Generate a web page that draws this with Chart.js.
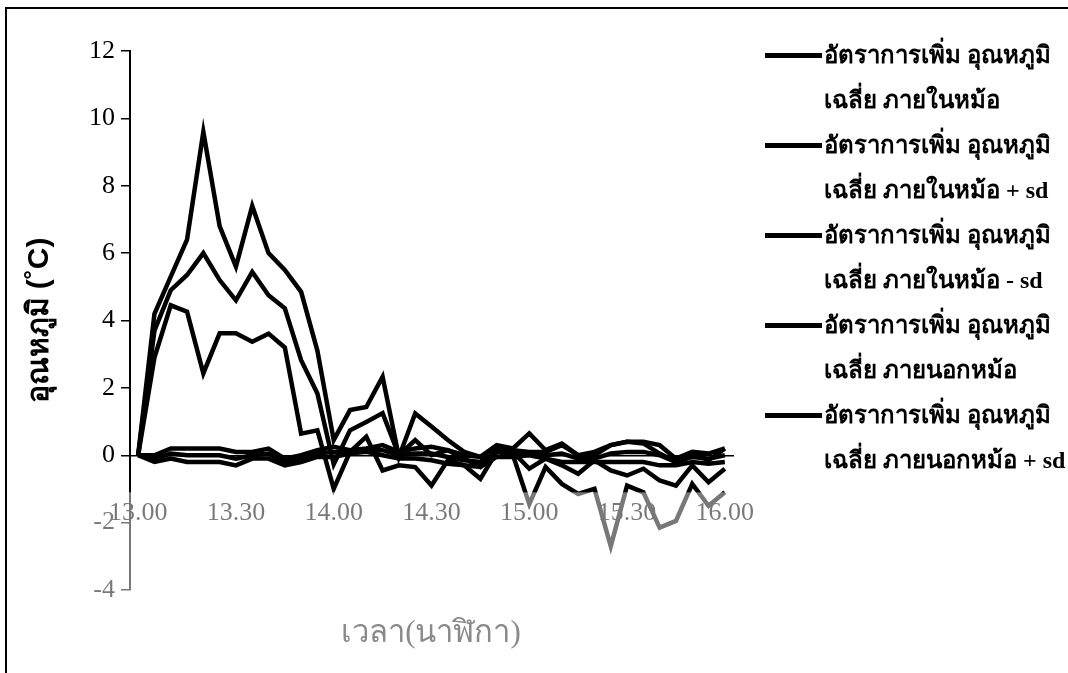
<!DOCTYPE html>
<html>
<head>
<meta charset="utf-8">
<script src="https://cdn.jsdelivr.net/npm/chart.js@4.4.1/dist/chart.umd.min.js"></script>
<style>
  html, body { margin: 0; padding: 0; background: #fff; }
  #wrap { position: relative; width: 1068px; height: 673px; overflow: hidden; }
  #chart { position: absolute; left: 0; top: 0; }
  #frame { position: absolute; left: 5px; top: 7px; width: 1080px; height: 700px; box-sizing: border-box;
           border-top: 2px solid #000; border-left: 2px solid #000; pointer-events: none; }
  #legend { position: absolute; left: 762px; top: 33px; font-family: 'Liberation Serif', serif; font-size: 24px;
            font-weight: bold; color: #000; }
  .entry { position: relative; padding-left: 62px; line-height: 45px; white-space: nowrap; }
  .entry .swatch { position: absolute; left: 3px; top: 20px; width: 57px; height: 5px; background: #000; }
  #xtitle { position: absolute; left: 0; width: 862px; top: 606px; text-align: center;
            font-family: 'Liberation Serif', serif; font-size: 31px; color: #8a8a8a; }
</style>
</head>
<body>
<div id="wrap">
  <canvas id="chart" width="1068" height="673"></canvas>
  <div id="legend"></div>
  <div id="xtitle"></div>
  <div id="frame"></div>
</div>
<script>
// time of day, every 5 minutes
const timeLabels = ['13.00', '13.05', '13.10', '13.15', '13.20', '13.25', '13.30', '13.35', '13.40', '13.45',
  '13.50', '13.55', '14.00', '14.05', '14.10', '14.15', '14.20', '14.25', '14.30', '14.35',
  '14.40', '14.45', '14.50', '14.55', '15.00', '15.05', '15.10', '15.15', '15.20', '15.25',
  '15.30', '15.35', '15.40', '15.45', '15.50', '15.55', '16.00'];
const shownTicks = ['13.00', '13.30', '14.00', '14.30', '15.00', '15.30', '16.00'];

const insideMean = [0, 3.7, 4.9, 5.35, 6.0, 5.2, 4.6, 5.44, 4.75, 4.36,
  2.82, 1.83, -0.27, 0.74, 0.99, 1.25, 0.0, 0.45, 0.0, 0.15,
  -0.1, -0.35, 0.15, 0.1, -0.4, -0.1, -0.3, -0.55, -0.15, -0.45,
  -0.6, -0.4, -0.75, -0.9, -0.3, -0.8, -0.4];
const insidePlusSd = [0, 4.2, 5.3, 6.4, 9.6, 6.8, 5.6, 7.4, 6.0, 5.5,
  4.85, 3.1, 0.45, 1.34, 1.43, 2.33, -0.05, 1.24, 0.85, 0.45,
  0.1, -0.05, 0.3, 0.2, 0.65, 0.15, 0.35, 0.0, 0.1, 0.3,
  0.4, 0.35, 0.05, -0.2, 0.05, -0.15, 0.2];
const insideMinusSd = [0, 2.9, 4.45, 4.26, 2.43, 3.62, 3.62, 3.37, 3.61, 3.2,
  0.64, 0.74, -1.0, 0.1, 0.55, -0.45, -0.3, -0.35, -0.9, -0.15,
  -0.3, -0.7, 0.1, 0.0, -1.45, -0.35, -0.85, -1.15, -1.0, -2.7,
  -0.9, -1.1, -2.15, -1.95, -0.85, -1.5, -1.1];
const outsideMean = [0, -0.1, 0.05, 0.0, 0.0, 0.0, -0.1, 0.0, 0.05, -0.2,
  -0.1, 0.05, 0.1, 0.1, 0.15, 0.15, 0.0, 0.05, 0.05, -0.05,
  -0.15, -0.2, 0.1, 0.05, 0.05, 0.0, 0.05, -0.1, -0.1, 0.05,
  0.1, 0.1, 0.0, -0.2, -0.05, -0.1, 0.0];
const outsidePlusSd = [0, 0.0, 0.2, 0.2, 0.2, 0.2, 0.1, 0.1, 0.2, -0.1,
  0.0, 0.15, 0.25, 0.15, 0.2, 0.3, 0.1, 0.2, 0.25, 0.15,
  0.0, -0.05, 0.25, 0.15, 0.1, 0.1, 0.3, 0.0, 0.0, 0.3,
  0.4, 0.4, 0.3, -0.1, 0.1, 0.05, 0.2];
const outsideMinusSd = [0, -0.2, -0.1, -0.2, -0.2, -0.2, -0.3, -0.1, -0.1, -0.3,
  -0.2, -0.05, -0.05, 0.05, 0.1, 0.0, -0.1, -0.1, -0.15, -0.25,
  -0.3, -0.35, -0.05, -0.05, 0.0, -0.1, -0.2, -0.2, -0.2, -0.2,
  -0.2, -0.2, -0.3, -0.3, -0.2, -0.25, -0.2];

// legend names, split where the picture wraps them
const seriesNames = [
  ['อัตราการเพิ่ม อุณหภูมิ', 'เฉลี่ย ภายในหม้อ'],
  ['อัตราการเพิ่ม อุณหภูมิ', 'เฉลี่ย ภายในหม้อ + sd'],
  ['อัตราการเพิ่ม อุณหภูมิ', 'เฉลี่ย ภายในหม้อ - sd'],
  ['อัตราการเพิ่ม อุณหภูมิ', 'เฉลี่ย ภายนอกหม้อ'],
  ['อัตราการเพิ่ม อุณหภูมิ', 'เฉลี่ย ภายนอกหม้อ + sd'],
  ['อัตราการเพิ่ม อุณหภูมิ', 'เฉลี่ย ภายนอกหม้อ - sd']
];
const legendShown = 5; // the last entry does not fit in the legend box
const yTitle = 'อุณหภูมิ (˚C)';
const xTitle = 'เวลา(นาฬิกา)';

const seriesValues = [insideMean, insidePlusSd, insideMinusSd, outsideMean, outsidePlusSd, outsideMinusSd];

// the lower part of the picture is washed out by a watermark
const fadeBand = {
  id: 'fadeBand',
  afterDatasetsDraw(chart) {
    const ctx = chart.ctx;
    const top = chart.scales.y.getPixelForValue(-1.1);
    ctx.save();
    ctx.fillStyle = 'rgba(255,255,255,0.47)';
    ctx.fillRect(60, top, 700, chart.height - top);
    ctx.restore();
  }
};

const chart = new Chart(document.getElementById('chart'), {
  type: 'line',
  data: {
    labels: timeLabels,
    datasets: seriesValues.map((vals, i) => ({
      label: seriesNames[i].join(' '),
      data: vals,
      borderColor: '#000',
      borderWidth: 4.5,
      pointRadius: 0,
      tension: 0,
      fill: false
    }))
  },
  options: {
    responsive: false,
    animation: false,
    layout: {
      autoPadding: false,
      padding: { left: 0, top: 51, right: 335, bottom: 83 }
    },
    plugins: {
      legend: { display: false },
      tooltip: { enabled: false }
    },
    scales: {
      x: {
        type: 'category',
        offset: true,
        position: { y: 0 },
        grid: { display: false, drawTicks: false },
        border: { display: true, color: '#000', width: 1.5 },
        ticks: {
          autoSkip: false,
          maxRotation: 0,
          padding: 42,
          color: '#000',
          font: { family: 'Liberation Serif', size: 26 },
          callback: function (value) {
            const lab = this.getLabelForValue(value);
            return shownTicks.includes(lab) ? lab : '';
          }
        }
      },
      y: {
        position: 'left',
        min: -4,
        max: 12,
        afterFit: (scale) => { scale.width = 130; },
        grid: { display: true, drawOnChartArea: false, drawTicks: true, tickLength: 9, color: '#000', lineWidth: 1.5 },
        border: { display: true, color: '#000', width: 2 },
        ticks: {
          stepSize: 2,
          padding: 6,
          color: '#000',
          font: { family: 'Liberation Serif', size: 26 }
        },
        title: {
          display: true,
          text: yTitle,
          color: '#000',
          padding: { top: 22, bottom: 0 },
          font: { size: 30, weight: 'bold' }
        }
      }
    }
  },
  plugins: [fadeBand]
});

// legend built from the chart's datasets, with the wrapped names
const legendBox = document.getElementById('legend');
chart.data.datasets.slice(0, legendShown).forEach((ds, i) => {
  const entry = document.createElement('div');
  entry.className = 'entry';
  const swatch = document.createElement('span');
  swatch.className = 'swatch';
  swatch.style.background = ds.borderColor;
  entry.appendChild(swatch);
  seriesNames[i].forEach((line, k) => {
    if (k > 0) entry.appendChild(document.createElement('br'));
    entry.appendChild(document.createTextNode(line));
  });
  legendBox.appendChild(entry);
});
document.getElementById('xtitle').textContent = xTitle;
</script>
</body>
</html>
